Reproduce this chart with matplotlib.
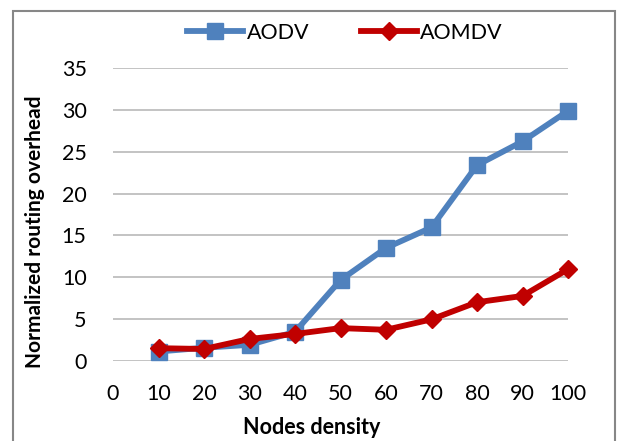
import matplotlib
matplotlib.use("Agg")
import matplotlib.pyplot as plt
from matplotlib.patches import Rectangle

plt.rcParams['font.family'] = ['Lato', 'DejaVu Sans']

nodes = [10, 20, 30, 40, 50, 60, 70, 80, 90, 100]
aodv = [1.1, 1.55, 1.9, 3.45, 9.65, 13.5, 15.95, 23.4, 26.25, 29.9]
aomdv = [1.5, 1.4, 2.6, 3.2, 3.9, 3.7, 4.95, 7.0, 7.75, 10.95]
x_ticks = [0, 10, 20, 30, 40, 50, 60, 70, 80, 90, 100]
y_ticks = [0, 5, 10, 15, 20, 25, 30, 35]

W, H = 618, 441
fig = plt.figure(figsize=(W / 100, H / 100), dpi=100)
fig.patch.set_facecolor('white')

# outer chart border
fig.patches.append(Rectangle((13 / W, -0.05), (615 - 13) / W, 1.05 - 11 / H,
                             transform=fig.transFigure, fill=False,
                             edgecolor='#878787', linewidth=1.5))

ax = fig.add_axes([113 / W, (H - 360.7) / H, (568 - 113) / W, (360.7 - 68.3) / H])
ax.set_xlim(0, 100)
ax.set_ylim(0, 35)
for s in ax.spines.values():
    s.set_visible(False)
ax.set_xticks(x_ticks)
ax.set_yticks(y_ticks)
ax.tick_params(axis='both', length=0, labelsize=15.5, colors='black')
ax.tick_params(axis='y', pad=19)
ax.tick_params(axis='x', pad=17)
ax.yaxis.grid(True, color='#BEBEBE', linewidth=1.3)
ax.set_axisbelow(True)

l1, = ax.plot(nodes, aodv, color='#4F81BD', linewidth=4.2, marker='s',
              markersize=11, label='AODV', clip_on=False)
l2, = ax.plot(nodes, aomdv, color='#C00000', linewidth=4.2, marker='D',
              markersize=9, label='AOMDV', clip_on=False)

fig.text(35 / W, 1 - 232 / H, 'Normalized routing overhead', rotation=90,
         ha='center', va='center', fontsize=15, fontweight='bold')
fig.text(312 / W, 1 - 428 / H, 'Nodes density', ha='center', va='center',
         fontsize=15.5, fontweight='bold')

fig.legend(handles=[l1, l2], loc='center', bbox_to_anchor=(345 / W, 1 - 33 / H),
           ncol=2, frameon=False, fontsize=15.5, handlelength=2.6,
           handletextpad=0.15, columnspacing=2.4, borderaxespad=0)

fig.savefig('out.png', dpi=100)
